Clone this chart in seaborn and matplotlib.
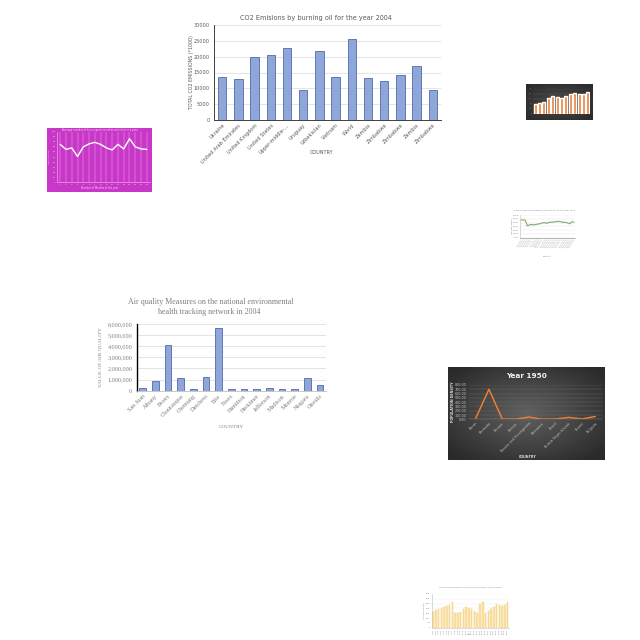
import numpy as np
import pandas as pd
import matplotlib
matplotlib.use("Agg")
import matplotlib.pyplot as plt
import seaborn as sns
from matplotlib.ticker import FuncFormatter
from matplotlib.colors import LinearSegmentedColormap

# ---------------- data ----------------
co2_countries = ["Ukraine", "United Arab Emirates", "United Kingdom", "United States",
                 "Upper-middle-...", "Uruguay", "Uzbekistan", "Vietnam", "World", "Zambia",
                 "Zimbabwe", "Zimbabwe", "Zambia", "Zimbabwe"]
co2_values = [13700, 13000, 20000, 20600, 22700, 9500, 21900, 13500, 25500, 13300,
              12200, 14200, 17200, 9500]
co2_yticks = [0, 5000, 10000, 15000, 20000, 25000, 30000]

aq_places = ["San Juan", "Albany", "Bronx", "Chautauqua", "Chemung", "Dutchess", "Erie",
             "Essex", "Hamilton", "Herkimer", "Jefferson", "Madison", "Monroe", "Niagara", "Oneida"]
aq_values = [270000, 900000, 4080000, 1110000, 150000, 1200000, 5640000, 120000,
             180000, 150000, 210000, 150000, 150000, 1110000, 480000]
aq_yticks = [0, 1000000, 2000000, 3000000, 4000000, 5000000, 6000000]

pop_countries = ["Benin", "Bermuda", "Bhutan", "Bolivia", "Bosnia and Herzegovina",
                 "Botswana", "Brazil", "British Virgin Islands", "Brunei", "Bulgaria"]
pop_values = [20, 700, 6, 3, 52, 1, 6, 45, 9, 66]
pop_yticks = [0, 100, 200, 300, 400, 500, 600, 700, 800]

mag_x = list(range(1, 17))
mag_values = [75, 65, 68, 51, 70, 76, 79, 75, 68, 64, 75, 66, 86, 70, 66, 65]
mag_yticks = [0, 10, 20, 30, 40, 50, 60, 70, 80, 90, 100]

green_values = [47, 47, 46, 31, 34, 35, 34, 35, 36, 37, 39, 40, 38, 40, 41, 41,
                42, 43, 43, 42, 40, 41, 39, 37, 42, 41]

orange_values = [28, 32, 35, 48, 52, 50, 48, 54, 60, 62, 58, 58, 64]

yellow_values = [165, 183, 197, 207, 218, 225, 235, 270, 150, 150, 166, 190, 215, 208,
                 190, 173, 156, 243, 270, 156, 173, 190, 215, 243, 235, 225, 235, 270]
yellow_years = [str(y) for y in range(1990, 2018)]

# ---------------- layout helpers ----------------
W = H = 640
sns.set_theme(style="white")
plt.rcParams['font.family'] = ['DejaVu Sans']
fig = plt.figure(figsize=(6.4, 6.4), dpi=100)
fig.patch.set_facecolor('white')


def rect(x0, y0, x1, y1):
    return [x0 / W, 1 - y1 / H, (x1 - x0) / W, (y1 - y0) / H]


def ftext(x, y, s, **kw):
    fig.text(x / W, 1 - y / H, s, **kw)


def gradient_panel(x0, y0, x1, y1, inner, outer):
    bg = fig.add_axes(rect(x0, y0, x1, y1))
    yy, xx = np.mgrid[-1:1:100j, -1:1:160j]
    r = np.clip(np.sqrt(xx ** 2 + yy ** 2) / 1.3, 0, 1)
    cmap = LinearSegmentedColormap.from_list("g", [inner, outer])
    bg.imshow(r, cmap=cmap, aspect='auto', extent=[0, 1, 0, 1], vmin=0, vmax=1)
    bg.set_axis_off()
    return bg


GRAY = '#595959'

# ---------------- CO2 chart ----------------
ax = fig.add_axes(rect(214, 25, 441, 120))
df = pd.DataFrame({'pos': range(len(co2_values)), 'val': co2_values})
sns.barplot(data=df, x='pos', y='val', ax=ax, color='#8FA6DA', edgecolor='#4F6BA8',
            linewidth=0.6, width=0.52, saturation=1)
ax.set_ylim(0, 30000)
ax.set_yticks(co2_yticks)
ax.set_xticks(range(len(co2_countries)))
ax.set_xticklabels(co2_countries, rotation=45, ha='right', rotation_mode='anchor',
                   fontsize=3.6, color=GRAY)
ax.tick_params(axis='y', labelsize=3.6, colors=GRAY, length=0, pad=3)
ax.tick_params(axis='x', length=0, pad=2)
ax.grid(axis='y', color='#D9D9D9', lw=0.5)
ax.set_axisbelow(True)
for s in ['top', 'right']:
    ax.spines[s].set_visible(False)
ax.spines['left'].set_color('#404040'); ax.spines['left'].set_linewidth(0.7)
ax.spines['bottom'].set_color('#404040'); ax.spines['bottom'].set_linewidth(0.7)
ax.set_xlabel(''); ax.set_ylabel('')
ftext(316, 18, "CO2 Emisions by burning oil for the year 2004", fontsize=4.7,
      color=GRAY, ha='center', va='center')
ftext(322, 153, "COUNTRY", fontsize=3.6, color=GRAY, ha='center', va='center')
ftext(191, 72, "TOTAL CO2 EMISSIONS (*1000)", fontsize=3.4, color=GRAY, ha='center',
      va='center', rotation=90)

# ---------------- Air quality chart ----------------
SERIF = ['Liberation Serif', 'DejaVu Serif']
ax = fig.add_axes(rect(136.5, 324, 326.3, 390.7))
df = pd.DataFrame({'place': aq_places, 'val': aq_values})
sns.barplot(data=df, x='place', y='val', ax=ax, color='#8FA6DA', edgecolor='#4F6BA8',
            linewidth=0.6, width=0.53, saturation=1)
ax.set_ylim(0, 6000000)
ax.set_yticks(aq_yticks)
ax.yaxis.set_major_formatter(FuncFormatter(lambda v, p: f"{int(v):,}"))
ax.set_xticks(range(len(aq_places)))
ax.set_xticklabels(aq_places, rotation=45, ha='right', rotation_mode='anchor',
                   fontsize=4.4, color='#7F7F7F', family=SERIF)
for t in ax.get_yticklabels():
    t.set_family(SERIF)
ax.tick_params(axis='y', labelsize=4.4, colors='#7F7F7F', length=0, pad=3)
ax.tick_params(axis='x', length=0, pad=2)
ax.grid(axis='y', color='#D9D9D9', lw=0.5)
ax.set_axisbelow(True)
for s in ['top', 'right']:
    ax.spines[s].set_visible(False)
ax.spines['left'].set_color('#000000'); ax.spines['left'].set_linewidth(1.0)
ax.spines['bottom'].set_color('#BFBFBF'); ax.spines['bottom'].set_linewidth(0.6)
ax.set_xlabel(''); ax.set_ylabel('')
ftext(211, 302, "Air quality Measures on the national environmental", fontsize=5.8,
      color='#7F7F7F', ha='center', va='center', family=SERIF)
ftext(209, 311.5, "health tracking network in 2004", fontsize=5.8,
      color='#7F7F7F', ha='center', va='center', family=SERIF)
ftext(231, 427, "COUNTRY", fontsize=3.8, color='#7F7F7F', ha='center', va='center',
      family=SERIF)
ftext(100, 357, "VALUE OF AIR QUALITY", fontsize=3.8, color='#7F7F7F', ha='center',
      va='center', rotation=90, family=SERIF)

# ---------------- Year 1950 dark chart ----------------
gradient_panel(447.5, 367.5, 604.5, 460.5, '#606060', '#2A2A2A')
ax = fig.add_axes(rect(469, 385, 602, 419.3))
ax.set_facecolor('none')
df = pd.DataFrame({'pos': range(len(pop_values)), 'val': pop_values})
sns.lineplot(data=df, x='pos', y='val', ax=ax, color='#ED7D31', lw=1.1)
ax.set_xlim(-0.5, len(pop_values) - 0.5)
ax.set_ylim(0, 800)
ax.set_yticks(pop_yticks)
ax.yaxis.set_major_formatter(FuncFormatter(lambda v, p: f"{v:.2f}"))
ax.set_xticks(range(len(pop_countries)))
ax.set_xticklabels(pop_countries, rotation=45, ha='right', rotation_mode='anchor',
                   fontsize=2.4, color='#BFBFBF')
ax.tick_params(axis='y', labelsize=2.4, colors='#BFBFBF', length=0, pad=2)
ax.tick_params(axis='x', length=0, pad=1.5)
ax.grid(axis='y', color='#6A6A6A', lw=0.3)
for s in ax.spines.values():
    s.set_visible(False)
ax.spines['bottom'].set_visible(True); ax.spines['bottom'].set_color('#7F7F7F')
ax.spines['bottom'].set_linewidth(0.3)
ax.set_xlabel(''); ax.set_ylabel('')
ftext(526, 376, "Year 1950", fontsize=5.2, color='#F2F2F2', ha='center', va='center',
      weight='bold')
ftext(528, 457, "COUNTRY", fontsize=2.4, color='#D9D9D9', ha='center', va='center',
      weight='bold')
ftext(453, 402, "POPULATION DENSITY", fontsize=2.4, color='#D9D9D9', ha='center',
      va='center', rotation=90, weight='bold')

# ---------------- Magenta line chart ----------------
bg = fig.add_axes(rect(46.5, 127.5, 152, 191.5))
bg.set_facecolor('#C837C8')
bg.set_xticks([]); bg.set_yticks([])
for s in bg.spines.values():
    s.set_visible(False)
ax = fig.add_axes(rect(57, 131.7, 150, 182.3))
ax.set_facecolor('none')
df = pd.DataFrame({'pos': range(len(mag_values)), 'val': mag_values})
sns.lineplot(data=df, x='pos', y='val', ax=ax, color='white', lw=1.0)
ax.set_xlim(-0.55, len(mag_values) - 0.45)
ax.set_ylim(0, 100)
ax.set_yticks(mag_yticks)
ax.set_xticks(range(len(mag_x)))
ax.set_xticklabels([str(v) for v in mag_x], fontsize=1.6, color='#F4D4F4')
ax.tick_params(axis='y', labelsize=1.6, colors='#F4D4F4', length=0, pad=1)
ax.tick_params(axis='x', length=0, pad=1.5)
ax.grid(axis='x', color='#E9A9E9', lw=0.35)
for s in ['top', 'right']:
    ax.spines[s].set_visible(False)
ax.spines['left'].set_color('#F0C0F0'); ax.spines['left'].set_linewidth(0.4)
ax.spines['bottom'].set_color('#F0C0F0'); ax.spines['bottom'].set_linewidth(0.4)
ax.set_xlabel(''); ax.set_ylabel('')
ftext(100, 130, "Average number of hours spent on online activities in a year", fontsize=1.8,
      color='#F4D4F4', ha='center', va='center')
ftext(100, 188.5, "Number of Months of the year", fontsize=1.8, color='#F4D4F4',
      ha='center', va='center')
ftext(49, 157, "Hours Online", fontsize=1.6, color='#F4D4F4', ha='center', va='center',
      rotation=90)

# ---------------- Top-right dark bar chart ----------------
gradient_panel(526, 84, 593, 120, '#4A4A4A', '#2B2B2B')
ax = fig.add_axes(rect(533, 88.5, 590, 113.5))
ax.set_facecolor('none')
df = pd.DataFrame({'pos': range(len(orange_values)), 'val': orange_values})
sns.barplot(data=df, x='pos', y='val', ax=ax, color='#E8803A', width=0.7, saturation=1)
ax.set_ylim(0, 75)
ax.set_yticks(range(0, 76, 15))
ax.set_xticks([])
ax.tick_params(axis='y', labelsize=1.3, colors='#AFAFAF', length=0, pad=1)
ax.grid(axis='y', color='#5A5A5A', lw=0.3)
ax.set_axisbelow(True)
for s in ax.spines.values():
    s.set_visible(False)
ax.set_xlabel(''); ax.set_ylabel('')

# ---------------- Green line chart ----------------
ax = fig.add_axes(rect(520, 215, 575, 237.7))
df = pd.DataFrame({'pos': range(len(green_values)), 'val': green_values})
sns.lineplot(data=df, x='pos', y='val', ax=ax, color='#8AB17D', lw=0.9)
ax.set_xlim(-0.5, len(green_values) - 0.5)
ax.set_ylim(0, 60)
ax.set_yticks(range(0, 61, 10))
ax.yaxis.set_major_formatter(FuncFormatter(lambda v, p: f"{v:.2f}"))
ax.set_xticks(range(len(green_values)))
ax.set_xticklabels([f"Country {i + 1}" for i in range(len(green_values))], rotation=60,
                   ha='right', rotation_mode='anchor', fontsize=1.3, color='#7F7F7F')
ax.tick_params(axis='y', labelsize=1.5, colors='#7F7F7F', length=0, pad=1)
ax.tick_params(axis='x', length=0, pad=1)
ax.grid(axis='y', color='#E6E6E6', lw=0.3)
for s in ['top', 'right']:
    ax.spines[s].set_visible(False)
ax.spines['left'].set_color('#BFBFBF'); ax.spines['left'].set_linewidth(0.4)
ax.spines['bottom'].set_color('#7F7F7F'); ax.spines['bottom'].set_linewidth(0.4)
ax.set_xlabel(''); ax.set_ylabel('')
ftext(545, 210.5, "Rate of population density (2000-2020) for the year 1960", fontsize=1.5,
      color='#7F7F7F', ha='center', va='center')
ftext(547, 256.5, "Country", fontsize=1.5, color='#7F7F7F', ha='center', va='center')
ftext(512, 226, "Population density", fontsize=1.3, color='#7F7F7F', ha='center',
      va='center', rotation=90)

# ---------------- Yellow bar chart ----------------
ax = fig.add_axes(rect(431.7, 594, 509, 627.7))
df = pd.DataFrame({'year': yellow_years, 'val': yellow_values})
sns.barplot(data=df, x='year', y='val', ax=ax, color='#FBE3A6', edgecolor='#F2CD79',
            linewidth=0.3, width=0.55, saturation=1)
ax.set_ylim(0, 350)
ax.set_yticks(range(0, 351, 50))
ax.set_xticks(range(len(yellow_years)))
ax.set_xticklabels(yellow_years, rotation=90, fontsize=1.4, color='#7F7F7F')
ax.tick_params(axis='y', labelsize=1.5, colors='#7F7F7F', length=0, pad=1)
ax.tick_params(axis='x', length=0, pad=1)
ax.grid(axis='y', color='#EDEDED', lw=0.3)
ax.set_axisbelow(True)
for s in ['top', 'right']:
    ax.spines[s].set_visible(False)
ax.spines['left'].set_color('#BFBFBF'); ax.spines['left'].set_linewidth(0.4)
ax.spines['bottom'].set_color('#BFBFBF'); ax.spines['bottom'].set_linewidth(0.4)
ax.set_xlabel(''); ax.set_ylabel('')
ftext(470, 587.3, "CO2 emissions from liquid fuel consumption (kt) in Norway", fontsize=1.5,
      color='#7F7F7F', ha='center', va='center')
ftext(469, 634, "Year", fontsize=1.5, color='#7F7F7F', ha='center', va='center')
ftext(424, 611, "CO2 emissions (kt)", fontsize=1.3, color='#7F7F7F', ha='center',
      va='center', rotation=90)

fig.savefig("out.png", dpi=100, facecolor='white')
